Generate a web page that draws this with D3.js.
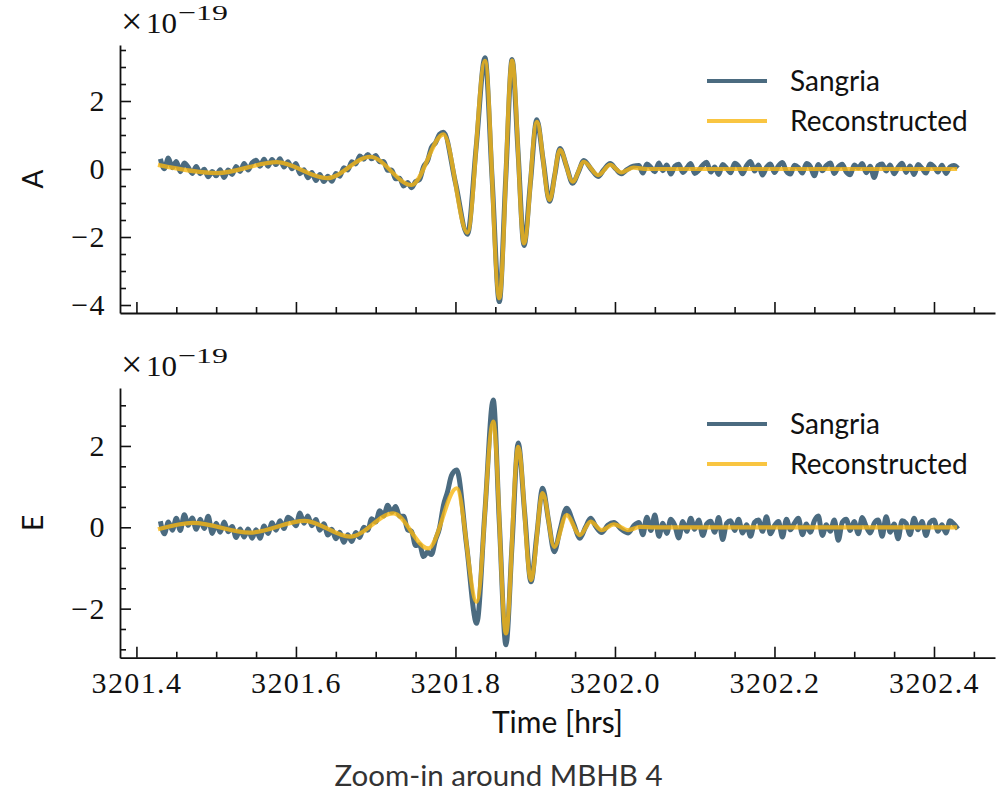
<!DOCTYPE html>
<html>
<head>
<meta charset="utf-8">
<script src="https://cdn.jsdelivr.net/npm/d3@7"></script>
<style>
  body { margin: 0; background: #fff; }
</style>
</head>
<body>
<div id="chart"></div>
<script>
// sample grids (hrs) for the noise-dominated stretches
const timesEarly = [
  3201.430, 3201.435, 3201.440, 3201.445, 3201.450, 3201.455, 3201.460, 3201.465, 3201.470, 3201.475,
  3201.480, 3201.485, 3201.490, 3201.495, 3201.500, 3201.505, 3201.510, 3201.515, 3201.520, 3201.525,
  3201.530, 3201.535, 3201.540, 3201.545, 3201.550, 3201.555, 3201.560, 3201.565, 3201.570, 3201.575,
  3201.580, 3201.585, 3201.590, 3201.595, 3201.600, 3201.605, 3201.610, 3201.615, 3201.620, 3201.625,
  3201.630, 3201.635, 3201.640, 3201.645, 3201.650, 3201.655, 3201.660, 3201.665, 3201.670, 3201.675,
  3201.680, 3201.685, 3201.690, 3201.695, 3201.700, 3201.705, 3201.710, 3201.715, 3201.720, 3201.725,
  3201.730, 3201.735, 3201.740, 3201.745, 3201.750, 3201.755, 3201.760, 3201.765, 3201.770, 3201.775,
  3201.780
];
const timesTail = [
  3202.030, 3202.035, 3202.040, 3202.045, 3202.050, 3202.055, 3202.060, 3202.065, 3202.070, 3202.075,
  3202.080, 3202.085, 3202.090, 3202.095, 3202.100, 3202.105, 3202.110, 3202.115, 3202.120, 3202.125,
  3202.130, 3202.135, 3202.140, 3202.145, 3202.150, 3202.155, 3202.160, 3202.165, 3202.170, 3202.175,
  3202.180, 3202.185, 3202.190, 3202.195, 3202.200, 3202.205, 3202.210, 3202.215, 3202.220, 3202.225,
  3202.230, 3202.235, 3202.240, 3202.245, 3202.250, 3202.255, 3202.260, 3202.265, 3202.270, 3202.275,
  3202.280, 3202.285, 3202.290, 3202.295, 3202.300, 3202.305, 3202.310, 3202.315, 3202.320, 3202.325,
  3202.330, 3202.335, 3202.340, 3202.345, 3202.350, 3202.355, 3202.360, 3202.365, 3202.370, 3202.375,
  3202.380, 3202.385, 3202.390, 3202.395, 3202.400, 3202.405, 3202.410, 3202.415, 3202.420, 3202.425,
  3202.430
];

// channel A, units of 1e-19
const sangriaAEarly = [
  0.30, 0.01, 0.32, 0.04, 0.22, -0.08, 0.18, 0.05, -0.13, 0.07,
  -0.14, -0.01, -0.23, -0.07, -0.20, -0.02, -0.25, -0.03, -0.16, 0.07,
  -0.07, 0.16, -0.03, 0.18, 0.26, 0.08, 0.29, 0.08, 0.28, 0.13,
  0.30, 0.06, 0.21, 0.01, 0.16, -0.14, -0.02, -0.26, -0.10, -0.34,
  -0.16, -0.37, -0.21, -0.36, -0.13, -0.21, 0.04, -0.03, 0.21, 0.15,
  0.38, 0.29, 0.43, 0.30, 0.40, 0.21, 0.22, -0.04, -0.03, -0.29,
  -0.27, -0.50, -0.40, -0.55, -0.37, -0.31, 0.07, 0.24, 0.64, 0.77,
  1.02
];
const sangriaAMerger = [
  [3201.785, 1.08], [3201.800, -0.40], [3201.815, -1.92], [3201.826, 0.65],
  [3201.837, 3.27], [3201.846, -0.30], [3201.855, -3.90], [3201.863, -0.30],
  [3201.871, 3.22], [3201.8785, 0.50], [3201.886, -2.25], [3201.894, -0.40],
  [3201.902, 1.45], [3201.910, 0.25], [3201.918, -0.95], [3201.9245, -0.18],
  [3201.931, 0.60], [3201.939, 0.10], [3201.947, -0.42], [3201.954, -0.10],
  [3201.961, 0.25], [3201.970, 0.00], [3201.979, -0.22], [3201.986, -0.02],
  [3201.994, 0.16], [3202.001, 0.00], [3202.008, -0.14], [3202.015, -0.02],
  [3202.023, 0.08]
];
const sangriaATail = [
  0.10, -0.12, 0.15, 0.05, -0.08, 0.18, -0.05, 0.12, -0.15, 0.08,
  0.14, -0.10, 0.03, 0.16, -0.13, -0.04, 0.11, 0.20, -0.09, 0.06,
  -0.16, 0.13, 0.02, -0.11, 0.17, 0.08, -0.14, 0.10, 0.22, -0.06,
  0.12, -0.18, 0.05, 0.15, -0.10, 0.09, 0.19, -0.07, -0.15, 0.11,
  0.04, -0.12, 0.16, 0.07, -0.20, 0.13, -0.05, 0.10, 0.18, -0.13,
  0.06, 0.14, -0.09, -0.17, 0.12, 0.03, 0.16, -0.11, 0.08, -0.25,
  0.10, 0.15, -0.06, 0.12, -0.14, 0.05, 0.17, -0.10, 0.09, -0.16,
  0.13, 0.02, -0.12, 0.15, 0.07, -0.09, 0.11, -0.13, 0.06, 0.10,
  0.02
];
const reconA = [
  [3201.427, 0.12], [3201.501, -0.12], [3201.576, 0.20], [3201.639, -0.27],
  [3201.693, 0.36], [3201.745, -0.47], [3201.785, 1.02], [3201.815, -1.87],
  [3201.837, 3.18], [3201.855, -3.80], [3201.871, 3.19], [3201.886, -2.19],
  [3201.902, 1.39], [3201.918, -0.91], [3201.931, 0.56], [3201.947, -0.37],
  [3201.961, 0.21], [3201.979, -0.18], [3201.994, 0.12], [3202.008, -0.10],
  [3202.023, 0.04], [3202.040, 0.00], [3202.429, 0.00]
];

// channel E, units of 1e-19
const sangriaEEarly = [
  0.15, -0.16, 0.13, -0.07, 0.22, -0.08, 0.31, 0.05, 0.23, -0.05,
  0.20, -0.03, 0.27, -0.15, 0.10, -0.12, 0.13, -0.11, 0.02, -0.25,
  -0.04, -0.24, -0.04, -0.27, -0.06, -0.27, 0.03, -0.15, 0.11, -0.07,
  0.16, -0.03, 0.25, 0.18, 0.04, 0.35, 0.10, 0.28, 0.04, 0.19,
  -0.07, 0.09, -0.19, -0.05, -0.28, -0.12, -0.37, -0.18, -0.35, -0.13,
  -0.25, 0.00, -0.07, 0.21, 0.13, 0.41, 0.28, 0.54, 0.37, 0.51,
  0.27, 0.27, -0.06, -0.10, -0.45, -0.43, -0.72, -0.61, -0.67, -0.31,
  -0.02
];
const sangriaEMerger = [
  [3201.785, 0.54], [3201.790, 0.87], [3201.795, 1.27], [3201.8015, 1.41],
  [3201.814, -0.45], [3201.8266, -2.36], [3201.837, 0.40], [3201.8474, 3.13],
  [3201.855, 0.12], [3201.8633, -2.89], [3201.871, -0.41], [3201.8787, 2.07],
  [3201.8867, 0.37], [3201.8947, -1.34], [3201.902, -0.19], [3201.9093, 0.96],
  [3201.9166, 0.18], [3201.9239, -0.60], [3201.931, -0.07], [3201.9394, 0.47],
  [3201.948, 0.10], [3201.9561, -0.27], [3201.963, 0.00], [3201.9695, 0.22],
  [3201.976, 0.02], [3201.9833, -0.13], [3201.991, 0.05], [3201.9987, 0.12],
  [3202.008, -0.05], [3202.0167, -0.14], [3202.024, 0.05]
];
const sangriaETail = [
  0.12, -0.18, 0.25, -0.08, 0.30, -0.22, 0.10, -0.15, 0.20, 0.05,
  -0.26, 0.14, -0.10, 0.22, -0.05, 0.18, -0.20, 0.08, 0.15, -0.12,
  0.24, -0.30, 0.10, 0.16, -0.08, 0.20, -0.14, 0.06, -0.22, 0.12,
  0.18, -0.10, 0.26, -0.16, 0.04, 0.14, -0.24, 0.20, -0.06, 0.10,
  0.22, -0.18, 0.08, -0.12, 0.16, 0.28, -0.20, 0.06, -0.10, 0.18,
  -0.32, 0.12, 0.20, -0.08, 0.14, -0.16, 0.24, 0.02, -0.14, 0.10,
  0.18, -0.22, 0.26, -0.12, 0.08, -0.28, 0.16, 0.10, -0.18, 0.22,
  -0.06, 0.14, -0.20, 0.12, 0.18, -0.10, 0.06, -0.14, 0.16, 0.08,
  -0.04
];
const reconE = [
  [3201.427, -0.05], [3201.471, 0.11], [3201.542, -0.13], [3201.611, 0.16],
  [3201.668, -0.23], [3201.722, 0.34], [3201.766, -0.52], [3201.8015, 0.96],
  [3201.8266, -1.83], [3201.8474, 2.60], [3201.8633, -2.61], [3201.8787, 1.98],
  [3201.8947, -1.30], [3201.9093, 0.84], [3201.9239, -0.48], [3201.9394, 0.30],
  [3201.9561, -0.19], [3201.9695, 0.14], [3201.9833, -0.07], [3201.9987, 0.07],
  [3202.0167, -0.07], [3202.0313, 0.01], [3202.050, 0.00], [3202.429, 0.00]
];

const xTicks = [3201.4, 3201.6, 3201.8, 3202.0, 3202.2, 3202.4];
const yTicksA = [-4, -2, 0, 2];
const yTicksE = [-2, 0, 2];
const seriesNames = ['Sangria', 'Reconstructed'];

// ---- drawing ----
const W = 997, H = 795;
const left = 120, right = 995;
const colSangria = '#4b6b80';
const colRecon = 'rgb(248,182,18)';
const serif = '"Liberation Serif", "DejaVu Serif", serif';
const sans = 'Lato, "Open Sans", sans-serif';

const svg = d3.select('#chart').append('svg')
  .attr('width', W)
  .attr('height', H);

const x = d3.scaleLinear().domain([3201.3794, 3202.4765]).range([left, right]);

const panels = [
  { top: 45, bottom: 313, domain: [-4.235, 3.647], ticks: yTicksA, label: 'A',
    sangria: timesEarly.map((t, i) => [t, sangriaAEarly[i]])
      .concat(sangriaAMerger, timesTail.map((t, i) => [t, sangriaATail[i]])),
    recon: reconA, showX: false },
  { top: 388, bottom: 657.7, domain: [-3.206, 3.425], ticks: yTicksE, label: 'E',
    sangria: timesEarly.map((t, i) => [t, sangriaEEarly[i]])
      .concat(sangriaEMerger, timesTail.map((t, i) => [t, sangriaETail[i]])),
    recon: reconE, showX: true }
];

const minorX = d3.range(3201.35, 3202.5, 0.05)
  .filter(v => v > x.domain()[0] && v < x.domain()[1]);

function styleAxis(g, labels) {
  g.select('.domain').attr('stroke', '#111').attr('stroke-width', 1.8);
  g.selectAll('.tick line').attr('stroke', '#111').attr('stroke-width', 1.6);
  g.selectAll('.tick text')
    .attr('fill', '#111')
    .style('font-family', serif)
    .style('font-size', '30px')
    .style('letter-spacing', '1.4px');
  if (!labels) g.selectAll('.tick text').remove();
}

panels.forEach(p => {
  const y = d3.scaleLinear().domain(p.domain).range([p.bottom, p.top]);
  const g = svg.append('g');

  const line = d3.line()
    .x(d => x(d[0]))
    .y(d => y(d[1]))
    .curve(d3.curveMonotoneX);

  g.append('path')
    .datum(p.sangria)
    .attr('d', line)
    .attr('fill', 'none')
    .attr('stroke', colSangria)
    .attr('stroke-width', 5)
    .attr('stroke-linejoin', 'round');

  g.append('path')
    .datum(p.recon)
    .attr('d', line)
    .attr('fill', 'none')
    .attr('stroke', colRecon)
    .attr('stroke-opacity', 0.8)
    .attr('stroke-width', 4.2)
    .attr('stroke-linejoin', 'round');

  // minor ticks
  const minorY = d3.range(Math.ceil(p.domain[0] * 2) / 2, p.domain[1], 0.5)
    .filter(v => !p.ticks.includes(v));
  g.append('g')
    .attr('transform', `translate(${left},0)`)
    .call(d3.axisLeft(y).tickValues(minorY).tickSize(-6).tickFormat(''))
    .call(a => { a.select('.domain').remove(); styleAxis(a, false); });
  g.append('g')
    .attr('transform', `translate(0,${p.bottom})`)
    .call(d3.axisBottom(x).tickValues(minorX.filter(v => !xTicks.some(t => Math.abs(t - v) < 1e-6)))
      .tickSize(-6).tickFormat(''))
    .call(a => { a.select('.domain').remove(); styleAxis(a, false); });

  // major ticks + spines
  g.append('g')
    .attr('transform', `translate(${left},0)`)
    .call(d3.axisLeft(y).tickValues(p.ticks).tickSize(-11).tickSizeOuter(0)
      .tickPadding(14).tickFormat(d3.format('d')))
    .call(a => styleAxis(a, true));
  g.append('g')
    .attr('transform', `translate(0,${p.bottom})`)
    .call(d3.axisBottom(x).tickValues(xTicks).tickSize(-11).tickSizeOuter(0)
      .tickPadding(14).tickFormat(d3.format('.1f')))
    .call(a => styleAxis(a, p.showX));

  // offset text  ×10^-19
  g.append('text').attr('x', 121).attr('y', p.top - 11)
    .style('font-family', serif).style('font-size', '38px').attr('fill', '#111')
    .text('×');
  g.append('text').attr('x', 146).attr('y', p.top - 12)
    .style('font-family', serif).style('font-size', '30px').attr('fill', '#111')
    .attr('textLength', 31).attr('lengthAdjust', 'spacingAndGlyphs')
    .text('10');
  g.append('text').attr('x', 178).attr('y', p.top - 25)
    .style('font-family', serif).style('font-size', '22px').attr('fill', '#111')
    .attr('textLength', 50).attr('lengthAdjust', 'spacingAndGlyphs')
    .text('−19');

  // y label
  g.append('text')
    .attr('transform', `translate(43,${(p.top + p.bottom) / 2}) rotate(-90)`)
    .attr('text-anchor', 'middle')
    .style('font-family', sans).style('font-size', '28px').attr('fill', '#111')
    .text(p.label);

  // legend
  const lg = g.append('g').attr('transform', `translate(0,${p.top + 36})`);
  [colSangria, colRecon].forEach((c, i) => {
    lg.append('line')
      .attr('x1', 707).attr('x2', 767)
      .attr('y1', i * 40).attr('y2', i * 40)
      .attr('stroke', c)
      .attr('stroke-opacity', i ? 0.8 : 1)
      .attr('stroke-width', 4);
    lg.append('text')
      .attr('x', 790).attr('y', i * 40 + 10)
      .style('font-family', sans).style('font-size', '28px').attr('fill', '#111')
      .text(seriesNames[i]);
  });
});

svg.append('text')
  .attr('x', (left + right) / 2).attr('y', 733)
  .attr('text-anchor', 'middle')
  .style('font-family', sans).style('font-size', '30px').attr('fill', '#111')
  .text('Time [hrs]');

svg.append('text')
  .attr('x', W / 2).attr('y', 786)
  .attr('text-anchor', 'middle')
  .style('font-family', sans).style('font-size', '29.5px').attr('fill', '#333')
  .text('Zoom-in around MBHB 4');
</script>
</body>
</html>
